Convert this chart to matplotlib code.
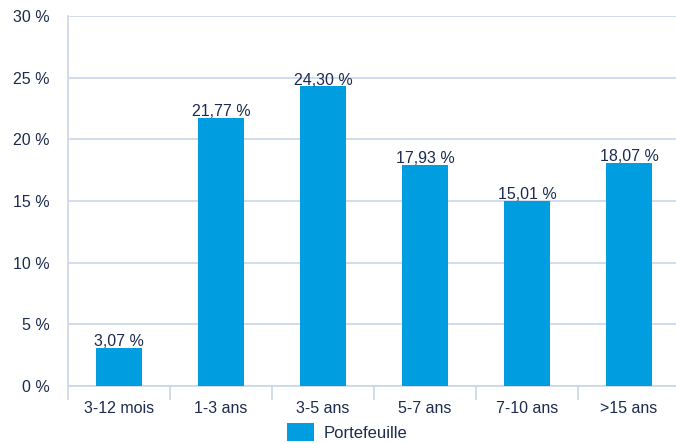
import matplotlib.pyplot as plt
import numpy as np

plt.rcParams['font.family'] = ['Liberation Sans', 'DejaVu Sans']

categories = ["3-12 mois", "1-3 ans", "3-5 ans", "5-7 ans", "7-10 ans", ">15 ans"]
valeurs = [3.07, 21.77, 24.30, 17.93, 15.01, 18.07]
etiquettes = ["3,07 %", "21,77 %", "24,30 %", "17,93 %", "15,01 %", "18,07 %"]

bleu = "#009ee0"
texte = "#1c2b4f"
grille = "#c9d6e6"

fig = plt.figure(figsize=(6.76, 4.44), dpi=100)
ax = fig.add_axes([68/676, 58/444, 612/676, 370/444])

x = np.arange(len(categories))
barres = ax.bar(x, valeurs, width=0.46, color=bleu, label="Portefeuille", zorder=3)
for b, t in zip(barres, etiquettes):
    ax.text(b.get_x() + b.get_width()/2, b.get_height() - 0.1, t,
            ha="center", va="bottom", fontsize=11.5, color=texte, zorder=4)

ax.set_xlim(-0.5, len(categories) - 0.5)
ax.set_ylim(0, 30)
ax.set_yticks(range(0, 31, 5))
ax.set_yticklabels([f"{v} %" for v in range(0, 31, 5)])
ax.grid(axis="y", color=grille, linewidth=1.2, zorder=0)

ax.set_xticks(x)
ax.set_xticklabels(categories)
ax.set_xticks(np.arange(-0.5, len(categories)), minor=True)
ax.tick_params(axis="x", which="major", length=0, pad=11, labelsize=11.5, labelcolor=texte)
ax.tick_params(axis="x", which="minor", length=10, width=1.2, color=grille)
ax.tick_params(axis="y", length=0, pad=13, labelsize=11.5, labelcolor=texte)

for s in ["top", "right"]:
    ax.spines[s].set_visible(False)
ax.spines["left"].set_color(grille)
ax.spines["left"].set_linewidth(1.2)
ax.spines["left"].set_bounds(0, 30)
ax.spines["bottom"].set_color(grille)
ax.spines["bottom"].set_linewidth(1.2)

fig.legend(loc="center left", bbox_to_anchor=(272/676, 12/444), frameon=False,
           fontsize=12, labelcolor=texte, handlelength=1.6, handleheight=1.2,
           handletextpad=0.6)

fig.savefig("out.png", dpi=100)
